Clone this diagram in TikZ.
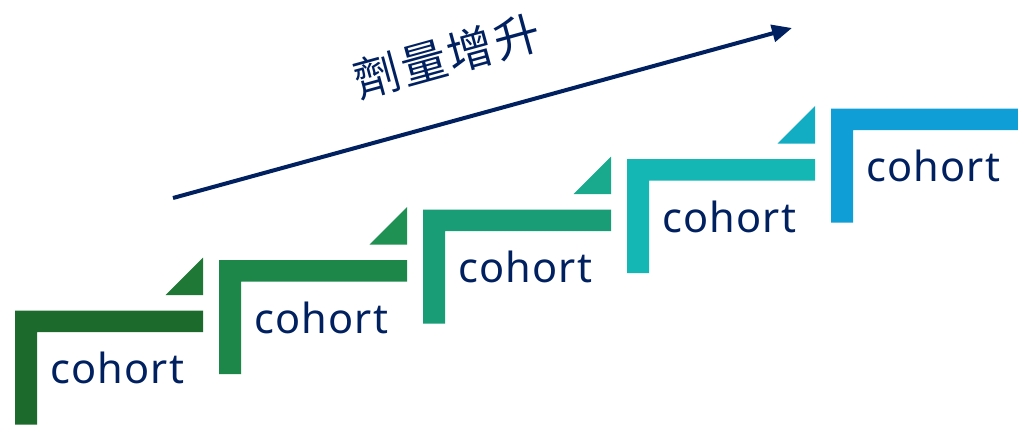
\documentclass[tikz,border=0pt]{standalone}
\usepackage{fontspec}
\setmainfont{Noto Sans}
\newfontfamily\cjk[LetterSpace=5]{Noto Sans CJK TC}
\newfontfamily\cohortfont[LetterSpace=3]{Noto Sans}
\usetikzlibrary{arrows.meta}
\definecolor{navy}{HTML}{002060}
\definecolor{barA}{HTML}{1D6B2C}\definecolor{triA}{HTML}{1F7836}
\definecolor{barB}{HTML}{1D874A}\definecolor{triB}{HTML}{1E9153}
\definecolor{barC}{HTML}{189D77}\definecolor{triC}{HTML}{19A98C}
\definecolor{barD}{HTML}{15B7B5}\definecolor{triD}{HTML}{13ADC3}
\definecolor{barE}{HTML}{0F9ED6}
\tikzset{
  cohortlabel/.style={anchor=base west, inner sep=0pt, text=navy, font=\cohortfont\fontsize{41.5}{46}\selectfont},
  dosearrow/.style={draw=navy, line width=4pt, -{Triangle[length=20pt,width=17pt]}},
}
\begin{document}
\begin{tikzpicture}[x=1pt,y=-1pt]
\useasboundingbox (0,0) rectangle (1018,424);
\foreach \i/\bc/\tc in {0/barA/triA,1/barB/triB,2/barC/triC,3/barD/triD,4/barE/none}{
  \pgfmathsetmacro{\L}{15+204*\i}
  \pgfmathsetmacro{\T}{310.5-50.5*\i}
  \fill[\bc] (\L,\T) -- ++(188,0) -- ++(0,21.5) -- ++(-166,0) -- ++(0,92.5) -- ++(-22,0) -- cycle;
  \ifnum\i<4
    \fill[\tc] (\L+150.5,\T-15.5) -- (\L+188,\T-53) -- (\L+188,\T-15.5) -- cycle;
  \fi
  \node[cohortlabel] (c\i) at (\L+35,\T+73) {cohort};
}
\coordinate (a0) at (173,198);
\coordinate (a1) at (792,28);
\draw[dosearrow] (a0) -- (a1);
\node[text=navy, font=\cjk\fontsize{46}{50}\selectfont, rotate=15.4, inner sep=0pt] (dose) at (447,56) {劑量增升};
\end{tikzpicture}
\end{document}
